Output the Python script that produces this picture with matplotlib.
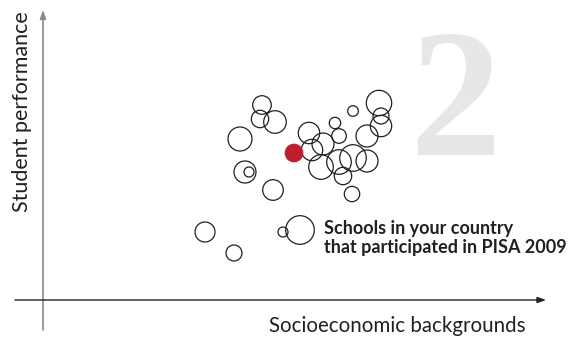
import matplotlib
matplotlib.use("Agg")
import matplotlib.pyplot as plt
from matplotlib.patches import Circle

# Schools: socioeconomic background (x), student performance (y), school size (radius)
socio = [219, 217, 232, 197, 266, 269, 280, 292, 296, 310, 336, 338, 338, 324,
         278, 296, 310, 324, 300, 202, 206, 230, 309, 162, 191, 257, 240]
perf = [195, 181, 178, 161, 167, 150, 156, 177, 164, 189, 197, 184, 174, 164,
        133, 138, 142, 139, 124, 128, 128, 110, 106, 68, 47, 70, 68]
size = [9.3, 8.7, 11.3, 12.0, 10.7, 10.7, 11.0, 5.7, 7.3, 5.3, 12.7, 8.0, 10.7, 11.0,
        12.3, 12.3, 13.3, 11.0, 8.7, 11.0, 5.0, 10.3, 7.7, 10.0, 8.0, 14.3, 5.0]
own_school = (251, 147, 9.0)

x_label = "Socioeconomic backgrounds"
y_label = "Student performance"
note = "Schools in your country\nthat participated in PISA 2009"
big_number = "2"

fig = plt.figure(figsize=(5.79, 3.41), dpi=100)
ax = fig.add_axes([0, 0, 1, 1])
ax.set_xlim(-43, 536)
ax.set_ylim(-41, 300)
ax.set_aspect("equal")
ax.axis("off")

# big grey numeral
ax.text(412, 145, big_number, fontsize=132, family="Liberation Serif", fontweight="bold",
        color="#e6e7e8", ha="center", va="baseline", zorder=0)

# axes arrows
ax.annotate("", xy=(0, 290), xytext=(0, -30),
            arrowprops=dict(arrowstyle="-|>,head_length=0.5,head_width=0.18",
                            color="#8a8a8a", lw=1.2, shrinkA=0, shrinkB=0))
ax.annotate("", xy=(503, 0), xytext=(-28, 0),
            arrowprops=dict(arrowstyle="-|>,head_length=0.5,head_width=0.18",
                            color="#231f20", lw=1.0, shrinkA=0, shrinkB=0))

for x, y, r in zip(socio, perf, size):
    ax.add_patch(Circle((x, y), r, facecolor="none", edgecolor="#231f20", lw=0.9, zorder=2))
ox, oy, orad = own_school
ax.add_patch(Circle((ox, oy), orad, facecolor="#be1e2d", edgecolor="#be1e2d", lw=0.5, zorder=3))

ax.text(354, -26, x_label, fontsize=14.8, family="Lato", color="#231f20",
        ha="center", va="center")
ax.text(-21, 188, y_label, fontsize=15.5, family="Lato", color="#231f20",
        ha="center", va="center", rotation=90)
ax.text(281, 62, note, fontsize=13, family="Lato", fontweight="bold", color="#231f20",
        ha="left", va="center", linespacing=1.12)

fig.savefig("out.png", dpi=100)
